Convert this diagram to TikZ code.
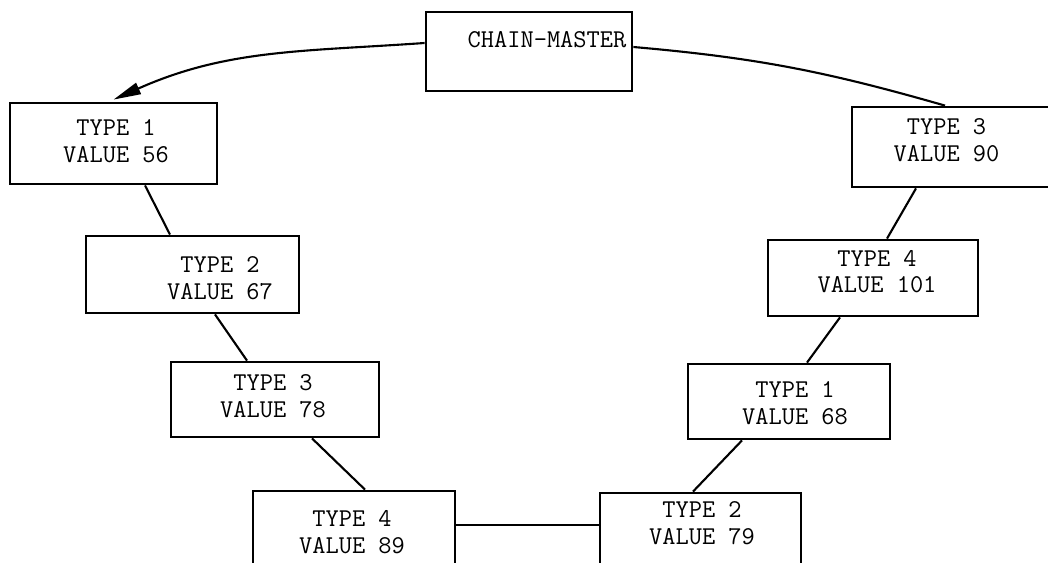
\documentclass[tikz,border=0pt]{standalone}
\usepackage{tikz}
\usetikzlibrary{positioning,arrows.meta,calc}
\tikzset{
  rec/.style={draw=black, line width=1.6pt, fill=white, inner sep=0pt},
  lbl/.style={font=\ttfamily\fontsize{14.6}{15.2}\selectfont, align=center,
    inner sep=0pt},
  link/.style={line width=1.2pt, draw=black},
  ptr/.style={-{Triangle[length=5.5mm,width=2.4mm]}, line width=1.2pt,
    draw=black}
}

\begin{document}
\begin{tikzpicture}[x=0.02cm,y=-0.02cm]
  \clip (0,0) rectangle (1048,563);

  % chain head
  \node[rec, minimum width=4.12cm, minimum height=1.58cm,
    label={[lbl,shift={(18,-11.5)}]center:CHAIN-MASTER}] (master) at (529,51.5) {};

  % left side of the chain
  \node[rec, minimum width=4.14cm, minimum height=1.62cm,
    label={[lbl,shift={(2.5,-2)}]center:{TYPE 1\\VALUE 56}}] (t1l) at (113.5,143.5) {};
  \node[rec, minimum width=4.26cm, minimum height=1.54cm,
    label={[lbl,shift={(27.5,3.5)}]center:{TYPE 2\\VALUE 67}}] (t2l) at (192.5,274.5) {};
  \node[rec, minimum width=4.16cm, minimum height=1.50cm,
    label={[lbl,shift={(-2,-3.5)}]center:{TYPE 3\\VALUE 78}}] (t3l) at (275,399.5) {};
  \node[rec, minimum width=4.04cm, minimum height=1.56cm,
    label={[lbl,shift={(-2,2)}]center:{TYPE 4\\VALUE 89}}] (t4l) at (354,530) {};

  % right side of the chain
  \node[rec, minimum width=4.02cm, minimum height=1.56cm,
    label={[lbl,shift={(1.5,-9)}]center:{TYPE 2\\VALUE 79}}] (t2r) at (700.5,532) {};
  \node[rec, minimum width=4.04cm, minimum height=1.50cm,
    label={[lbl,shift={(6,2)}]center:{TYPE 1\\VALUE 68}}] (t1r) at (789,401.5) {};
  \node[rec, minimum width=4.20cm, minimum height=1.52cm,
    label={[lbl,shift={(4,-6.5)}]center:{TYPE 4\\VALUE 101}}] (t4r) at (873,278) {};
  \node[rec, minimum width=4.08cm, minimum height=1.60cm,
    label={[lbl,shift={(-7.5,-7)}]center:{TYPE 3\\VALUE 90}}] (t3r) at (954,147) {};

  % links
  \draw[link] ($(t1l.south)+(31.5,0)$) -- ($(t2l.north)+(-22.5,0)$);
  \draw[link] ($(t2l.south)+(22.5,0)$) -- ($(t3l.north)+(-28,0)$);
  \draw[link] ($(t3l.south)+(37,0)$) -- ($(t4l.north)+(11,0)$);
  \draw[link] ($(t4l.east)+(0,-5)$) -- ($(t2r.west)+(0,-7)$);
  \draw[link] ($(t2r.north)+(-7.5,0)$) -- ($(t1r.south)+(-47,0)$);
  \draw[link] ($(t1r.north)+(18,0)$) -- ($(t4r.south)+(-33,0)$);
  \draw[link] ($(t4r.north)+(14,0)$) -- ($(t3r.south)+(-38,0)$);
  \draw[link] ($(master.east)+(0,-4.5)$) to[out=-5,in=164] ($(t3r.north)+(-9,0)$);
  \draw[ptr] ($(master.west)+(0,-8.5)$) to[out=184,in=24] ($(t1l.north)+(0,-2)$);
\end{tikzpicture}
\end{document}
